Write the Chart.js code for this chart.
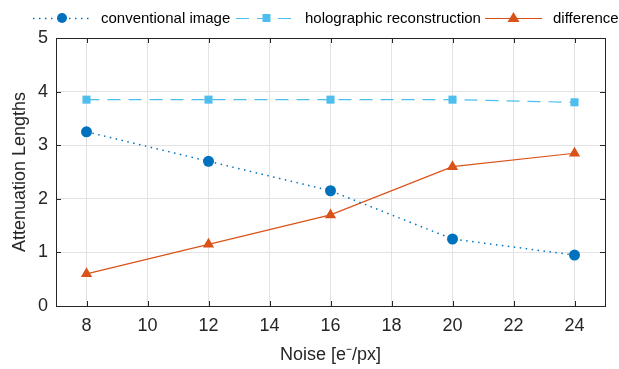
<!DOCTYPE html>
<html lang="en">
<head>
  <meta charset="UTF-8" />
  <title>Attenuation Lengths vs Noise</title>
  <script src="https://cdn.jsdelivr.net/npm/chart.js"></script>
  <style>
    html, body { margin: 0; padding: 0; background: #fff; }
    #wrap { width: 619px; height: 369px; }
  </style>
</head>
<body>
  <div id="wrap"><canvas id="noiseChart"></canvas></div>

  <script>
    const noise = [8, 12, 16, 20, 24];
    const conventional = [3.25, 2.7, 2.15, 1.25, 0.95];
    const holographic = [3.85, 3.85, 3.85, 3.85, 3.8];
    const difference = [0.6, 1.15, 1.7, 2.6, 2.85];
    const xTicks = [8, 10, 12, 14, 16, 18, 20, 22, 24];
    const yTicks = [0, 1, 2, 3, 4, 5];

    const FONT = '"Liberation Sans", Arial, sans-serif';
    const pts = arr => arr.map((v, i) => ({ x: noise[i], y: v }));

    // MATLAB-ish box with inward ticks
    const boxPlugin = {
      id: 'box',
      afterDraw(chart) {
        const { ctx, chartArea: a, scales } = chart;
        ctx.save();
        ctx.strokeStyle = '#262626';
        ctx.lineWidth = 1;
        ctx.strokeRect(Math.round(a.left) + 0.5, Math.round(a.top) + 0.5,
          Math.round(a.right - a.left), Math.round(a.bottom - a.top));
        ctx.beginPath();
        xTicks.forEach(v => {
          const x = Math.round(scales.x.getPixelForValue(v)) + 0.5;
          ctx.moveTo(x, a.bottom); ctx.lineTo(x, a.bottom - 5);
          ctx.moveTo(x, a.top); ctx.lineTo(x, a.top + 5);
        });
        yTicks.forEach(v => {
          const y = Math.round(scales.y.getPixelForValue(v)) + 0.5;
          ctx.moveTo(a.left, y); ctx.lineTo(a.left + 5, y);
          ctx.moveTo(a.right, y); ctx.lineTo(a.right - 5, y);
        });
        ctx.stroke();
        ctx.restore();
      }
    };

    // legend drawn with line sample + marker like the original
    const legendPlugin = {
      id: 'lineLegend',
      afterDraw(chart) {
        const ctx = chart.ctx;
        const items = [
          { ds: 0, x0: 33, x1: 91, tx: 101 },
          { ds: 1, x0: 236, x1: 297, tx: 305 },
          { ds: 2, x0: 485, x1: 542, tx: 553 }
        ];
        const y = 18;
        ctx.save();
        items.forEach(it => {
          const d = chart.data.datasets[it.ds];
          ctx.strokeStyle = d.borderColor;
          ctx.lineWidth = d.borderWidth;
          ctx.setLineDash(d.borderDash || []);
          ctx.beginPath();
          ctx.moveTo(it.x0, y + 0.5); ctx.lineTo(it.x1, y + 0.5);
          ctx.stroke();
          ctx.setLineDash([]);
          const mx = (it.x0 + it.x1) / 2;
          ctx.fillStyle = d.pointBackgroundColor;
          ctx.beginPath();
          if (d.pointStyle === 'circle') {
            ctx.arc(mx, y, 5, 0, Math.PI * 2);
          } else if (d.pointStyle === 'rect') {
            ctx.rect(mx - 4, y - 4, 8, 8);
          } else {
            ctx.moveTo(mx, y - 6); ctx.lineTo(mx + 6, y + 4); ctx.lineTo(mx - 6, y + 4);
            ctx.closePath();
          }
          ctx.fill();
          ctx.fillStyle = '#000';
          ctx.font = '15px ' + FONT;
          ctx.textBaseline = 'middle';
          ctx.fillText(d.label, it.tx, y + 1);
        });
        ctx.restore();
      }
    };

    new Chart(document.getElementById('noiseChart'), {
      type: 'line',
      data: {
        datasets: [
          {
            label: 'conventional image',
            data: pts(conventional),
            borderColor: '#0072BD',
            backgroundColor: '#0072BD',
            pointBackgroundColor: '#0072BD',
            borderWidth: 1.5,
            borderDash: [1.5, 4.5],
            pointStyle: 'circle',
            pointRadius: 5.5,
            pointBorderWidth: 0
          },
          {
            label: 'holographic reconstruction',
            data: pts(holographic),
            borderColor: '#4DBEEE',
            backgroundColor: '#4DBEEE',
            pointBackgroundColor: '#4DBEEE',
            borderWidth: 1.2,
            borderDash: [13, 8],
            pointStyle: 'rect',
            pointRadius: 5.7,
            pointBorderWidth: 0
          },
          {
            label: 'difference',
            data: pts(difference),
            borderColor: '#D95319',
            backgroundColor: '#D95319',
            pointBackgroundColor: '#D95319',
            borderWidth: 1.2,
            pointStyle: 'triangle',
            pointRadius: 6.5,
            pointBorderWidth: 0
          }
        ]
      },
      options: {
        responsive: true,
        maintainAspectRatio: false,
        animation: false,
        layout: { padding: { top: 38, right: 14, left: 0, bottom: 0 } },
        plugins: {
          legend: { display: false },
          tooltip: { enabled: false }
        },
        scales: {
          x: {
            type: 'linear',
            min: 7,
            max: 25,
            afterBuildTicks: s => { s.ticks = xTicks.map(v => ({ value: v })); },
            afterFit: s => { s.height = 63; },
            grid: { color: '#e3e3e3', drawTicks: false },
            border: { display: false },
            ticks: { color: '#262626', font: { family: FONT, size: 18 }, padding: 9 },
            title: {
              display: true,
              text: 'Noise [e\u207B/px]',
              color: '#262626',
              font: { family: FONT, size: 18 },
              padding: { top: 3, bottom: 3 }
            }
          },
          y: {
            min: 0,
            max: 5,
            afterBuildTicks: s => { s.ticks = yTicks.map(v => ({ value: v })); },
            afterFit: s => { s.width = 56; },
            grid: { color: '#e3e3e3', drawTicks: false },
            border: { display: false },
            ticks: { color: '#262626', font: { family: FONT, size: 18 }, padding: 8 },
            title: {
              display: true,
              text: 'Attenuation Lengths',
              color: '#262626',
              font: { family: FONT, size: 18 },
              padding: { top: 9, bottom: 9 }
            }
          }
        }
      },
      plugins: [boxPlugin, legendPlugin]
    });
  </script>
</body>
</html>
